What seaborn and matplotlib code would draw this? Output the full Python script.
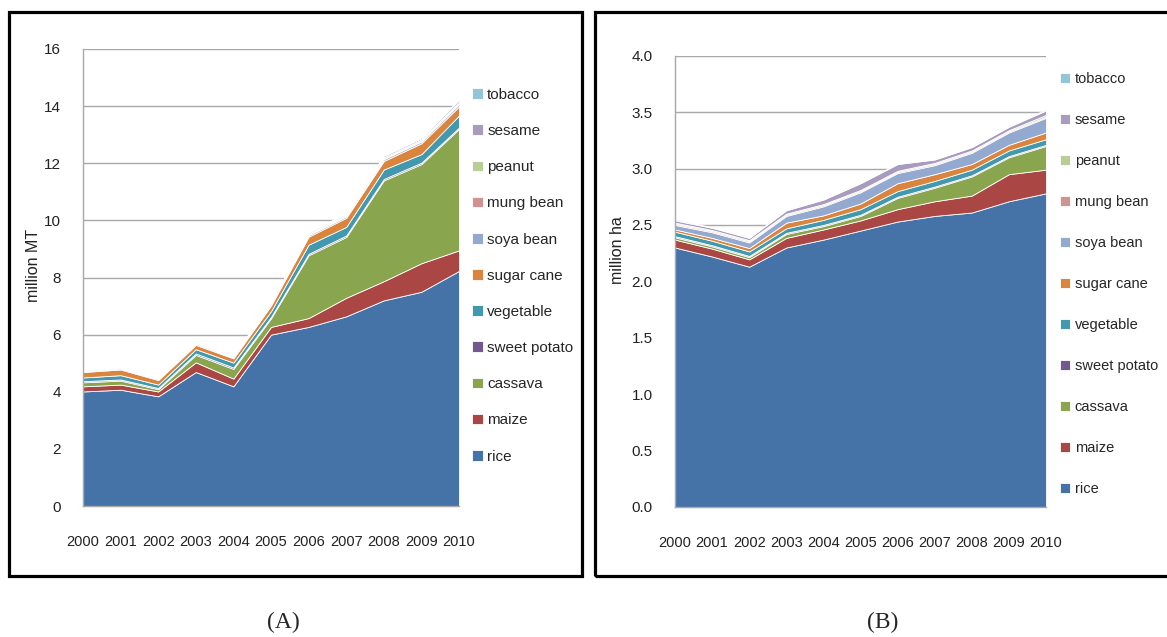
import numpy as np
import pandas as pd
import seaborn as sns
import matplotlib.pyplot as plt
from matplotlib.patches import Rectangle

# years on the x axis
years = list(range(2000, 2011))

# stacking order, bottom to top
crops = ['rice', 'maize', 'cassava', 'sweet potato', 'vegetable', 'sugar cane',
         'soya bean', 'mung bean', 'peanut', 'sesame', 'tobacco']
colors = ['#4572A7', '#AA4643', '#89A54E', '#71588F', '#4198AF', '#DB843D',
          '#93A9CF', '#D19392', '#B9CD96', '#A99BBD', '#92C5D8']

# (A) production, million MT
rice_mt = [4.01, 4.07, 3.84, 4.69, 4.19, 6.00, 6.27, 6.64, 7.20, 7.50, 8.23]
maize_mt = [0.18, 0.18, 0.17, 0.34, 0.27, 0.27, 0.31, 0.65, 0.67, 1.00, 0.72]
cassava_mt = [0.14, 0.14, 0.08, 0.26, 0.34, 0.30, 2.20, 2.13, 3.53, 3.47, 4.25]
sweet_potato_mt = [0.04, 0.04, 0.04, 0.05, 0.05, 0.05, 0.05, 0.05, 0.05, 0.05, 0.05]
vegetable_mt = [0.13, 0.15, 0.12, 0.15, 0.17, 0.20, 0.32, 0.30, 0.33, 0.30, 0.42]
sugar_cane_mt = [0.19, 0.20, 0.16, 0.15, 0.15, 0.20, 0.28, 0.32, 0.30, 0.38, 0.32]
soya_bean_mt = [0.03, 0.03, 0.03, 0.04, 0.03, 0.03, 0.05, 0.05, 0.06, 0.06, 0.08]
mung_bean_mt = [0.02, 0.02, 0.02, 0.02, 0.02, 0.02, 0.03, 0.03, 0.03, 0.03, 0.03]
peanut_mt = [0.02, 0.02, 0.02, 0.03, 0.02, 0.02, 0.03, 0.03, 0.04, 0.04, 0.05]
sesame_mt = [0.02, 0.02, 0.02, 0.03, 0.02, 0.03, 0.04, 0.04, 0.05, 0.05, 0.07]
tobacco_mt = [0.01, 0.01, 0.01, 0.01, 0.01, 0.01, 0.01, 0.01, 0.01, 0.01, 0.02]

# (B) harvested area, million ha
rice_ha = [2.30, 2.22, 2.13, 2.30, 2.37, 2.45, 2.53, 2.58, 2.61, 2.71, 2.78]
maize_ha = [0.07, 0.07, 0.065, 0.085, 0.09, 0.09, 0.11, 0.13, 0.15, 0.24, 0.21]
cassava_ha = [0.02, 0.02, 0.02, 0.035, 0.03, 0.04, 0.10, 0.12, 0.17, 0.15, 0.21]
sweet_potato_ha = [0.01, 0.01, 0.01, 0.01, 0.01, 0.01, 0.01, 0.01, 0.01, 0.01, 0.01]
vegetable_ha = [0.04, 0.04, 0.04, 0.04, 0.045, 0.05, 0.05, 0.05, 0.05, 0.05, 0.05]
sugar_cane_ha = [0.02, 0.025, 0.03, 0.05, 0.04, 0.05, 0.07, 0.06, 0.05, 0.05, 0.06]
soya_bean_ha = [0.04, 0.05, 0.05, 0.06, 0.08, 0.10, 0.09, 0.08, 0.10, 0.11, 0.13]
mung_bean_ha = [0.01, 0.01, 0.01, 0.01, 0.01, 0.01, 0.01, 0.01, 0.01, 0.01, 0.01]
peanut_ha = [0.01, 0.01, 0.01, 0.01, 0.01, 0.01, 0.01, 0.01, 0.01, 0.01, 0.015]
sesame_ha = [0.02, 0.02, 0.02, 0.03, 0.04, 0.06, 0.06, 0.03, 0.03, 0.03, 0.04]
tobacco_ha = [0.01, 0.005, 0.005, 0.005, 0.005, 0.005, 0.005, 0.005, 0.005, 0.005, 0.01]

series_mt = [rice_mt, maize_mt, cassava_mt, sweet_potato_mt, vegetable_mt, sugar_cane_mt,
             soya_bean_mt, mung_bean_mt, peanut_mt, sesame_mt, tobacco_mt]
series_ha = [rice_ha, maize_ha, cassava_ha, sweet_potato_ha, vegetable_ha, sugar_cane_ha,
             soya_bean_ha, mung_bean_ha, peanut_ha, sesame_ha, tobacco_ha]


def long_table(series):
    rows = []
    for crop, vals in zip(crops, series):
        for y, v in zip(years, vals):
            rows.append([y, crop, v])
    return pd.DataFrame(rows, columns=['year', 'crop', 'value'])


sns.set_style('white')
plt.rcParams['font.family'] = ['Liberation Sans', 'DejaVu Sans']

fig = plt.figure(figsize=(11.67, 6.37), dpi=100)
W, H = 1167, 637

# axes boxes in pixels: left, right, top, bottom
boxes = [(83, 459, 49, 506), (675, 1046, 55.7, 507)]
axes = [fig.add_axes([l / W, 1 - b / H, (r - l) / W, (b - t) / H]) for l, r, t, b in boxes]

panels = [
    (axes[0], series_mt, 16, 2, '{:.0f}', 'million MT', (472, 88), 11, 1.45, (33, 265)),
    (axes[1], series_ha, 4.0, 0.5, '{:.1f}', 'million ha', (1060, 72), 10.5, 1.85, (618, 250)),
]

palette = dict(zip(crops, colors))
for ax, series, ymax, step, fmt, ylab, leg_xy, leg_fs, lspace, ylab_xy in panels:
    df = long_table(series)
    sns.histplot(data=df, x='year', weights='value', hue='crop', hue_order=crops[::-1],
                 multiple='stack', element='poly', discrete=True, palette=palette,
                 alpha=1, edgecolor='white', linewidth=0.6, ax=ax)
    ax.set_xlim(2000, 2010)
    ax.set_ylim(0, ymax)
    ax.set_xticks(years)
    ax.set_xticklabels([str(y) for y in years])
    yt = np.arange(0, ymax + step / 2, step)
    ax.set_yticks(yt)
    ax.set_yticklabels([fmt.format(v) for v in yt])
    ax.set_axisbelow(True)
    ax.yaxis.grid(True, color='#a8a8a8', linewidth=1)
    ax.set_xlabel('')
    ax.set_ylabel('')
    for s in ['top', 'right']:
        ax.spines[s].set_visible(False)
    for s in ['left', 'bottom']:
        ax.spines[s].set_color('#a8a8a8')
        ax.spines[s].set_linewidth(1)
    ax.tick_params(axis='both', which='both', direction='out', length=6, width=1,
                   color='#a8a8a8', labelcolor='#222222', labelsize=11)
    ax.tick_params(axis='x', pad=15, labelsize=10.5)
    ax.tick_params(axis='y', pad=10)
    sns.move_legend(ax, 'upper left', bbox_to_anchor=(leg_xy[0] / W, 1 - leg_xy[1] / H),
                    bbox_transform=fig.transFigure, frameon=False, title=None,
                    fontsize=leg_fs, labelspacing=lspace, handlelength=0.7, handleheight=0.7,
                    handletextpad=0.3, borderpad=0, borderaxespad=0)
    fig.text(ylab_xy[0] / W, 1 - ylab_xy[1] / H, ylab, rotation=90, ha='center', va='center',
             fontsize=11.5, color='#222222')

# panel frames
fig.patches.append(Rectangle((9 / W, 1 - 576 / H), 573 / W, 564 / H, transform=fig.transFigure,
                             fill=False, edgecolor='black', linewidth=2.3))
fig.patches.append(Rectangle((595 / W, 1 - 576 / H), 600 / W, 564 / H, transform=fig.transFigure,
                             fill=False, edgecolor='black', linewidth=2.3))

fig.text(283 / W, 1 - 622 / H, '(A)', ha='center', va='center', fontsize=17,
         family=['Liberation Serif', 'DejaVu Serif'])
fig.text(883 / W, 1 - 622 / H, '(B)', ha='center', va='center', fontsize=17,
         family=['Liberation Serif', 'DejaVu Serif'])

fig.savefig('out.png', dpi=100)
